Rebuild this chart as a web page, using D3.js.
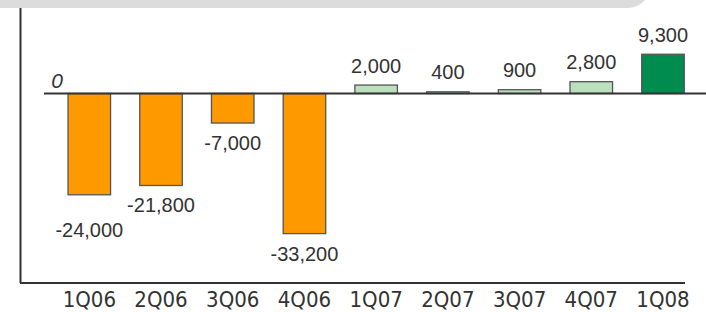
<!DOCTYPE html>
<html>
<head>
<meta charset="utf-8">
<script src="https://cdn.jsdelivr.net/npm/d3@7"></script>
<style>
  html, body { margin: 0; padding: 0; background: #fff; }
  svg { display: block; }
</style>
</head>
<body>
<svg id="chart" width="706" height="312"></svg>
<script>
// quarterly values
var quarters = ["1Q06", "2Q06", "3Q06", "4Q06", "1Q07", "2Q07", "3Q07", "4Q07", "1Q08"];
var values = [-24000, -21800, -7000, -33200, 2000, 400, 900, 2800, 9300];

var width = 706, height = 312;
var svg = d3.select("#chart");

var fmt = d3.formatLocale({decimal: ".", thousands: ",", grouping: [3], currency: ["", ""], minus: "-"}).format(",");

// scales
var x = d3.scaleBand()
    .domain(quarters)
    .range([53.7, 698.6])
    .paddingInner(0.407)
    .paddingOuter(0.2);

var y = d3.scaleLinear()
    .domain([-40000, 10000])
    .range([262.3, 51.3]);

var axisY = 283;

// grey header band with rounded corner
svg.append("rect")
    .attr("x", -30)
    .attr("y", -40)
    .attr("width", 680)
    .attr("height", 48)
    .attr("rx", 22)
    .attr("fill", "#dcdcdc");

// left and bottom frame lines
svg.append("line")
    .attr("x1", 20.5).attr("x2", 20.5)
    .attr("y1", 8).attr("y2", axisY)
    .attr("stroke", "#333").attr("stroke-width", 2);
svg.append("line")
    .attr("x1", 20).attr("x2", 685)
    .attr("y1", axisY).attr("y2", axisY)
    .attr("stroke", "#333").attr("stroke-width", 2);

// bars
svg.selectAll("rect.bar")
    .data(values)
    .enter()
    .append("rect")
    .attr("class", "bar")
    .attr("x", function(d, i) { return x(quarters[i]); })
    .attr("y", function(d) { return Math.min(y(d), y(0)); })
    .attr("width", x.bandwidth())
    .attr("height", function(d) { return Math.abs(y(d) - y(0)); })
    .attr("fill", function(d, i) {
        if (d < 0) return "#ff9900";
        return i === values.length - 1 ? "#008c4e" : "#bce0bc";
    })
    .attr("stroke", "#555")
    .attr("stroke-width", 1.3);

// zero line over the bars
svg.append("line")
    .attr("x1", 44).attr("x2", width)
    .attr("y1", y(0)).attr("y2", y(0))
    .attr("stroke", "#333").attr("stroke-width", 2);

svg.append("text")
    .attr("x", 57)
    .attr("y", y(0) - 5.5)
    .attr("text-anchor", "middle")
    .style("font-family", "'Liberation Sans', Arial, sans-serif")
    .style("font-style", "italic")
    .style("font-size", "21px")
    .style("fill", "#333")
    .text("0");

// value labels, nudge a negative label down when it would clash with the next one
var labelY = values.map(function(d) {
    return d < 0 ? y(d) + 27 : y(d) - 12.5;
});
values.forEach(function(d, i) {
    if (d < 0 && i < values.length - 1 && values[i + 1] < 0 &&
        Math.abs(labelY[i] - labelY[i + 1]) < 18) {
        labelY[i] = labelY[i + 1] + 25;
    }
});

svg.selectAll("text.val")
    .data(values)
    .enter()
    .append("text")
    .attr("class", "val")
    .attr("x", function(d, i) { return x(quarters[i]) + x.bandwidth() / 2; })
    .attr("y", function(d, i) { return labelY[i]; })
    .attr("text-anchor", "middle")
    .style("font-family", "'Liberation Sans', Arial, sans-serif")
    .style("font-size", "20px")
    .style("fill", "#333")
    .text(function(d) { return fmt(d); });

// category axis
var xAxis = svg.append("g")
    .attr("transform", "translate(0," + axisY + ")")
    .call(d3.axisBottom(x).tickSize(0).tickPadding(8));
xAxis.select(".domain").remove();
xAxis.selectAll("text")
    .style("font-family", "'DejaVu Sans Condensed', 'DejaVu Sans', sans-serif")
    .style("font-stretch", "condensed")
    .style("font-size", "22px")
    .style("fill", "#333");
</script>
</body>
</html>
